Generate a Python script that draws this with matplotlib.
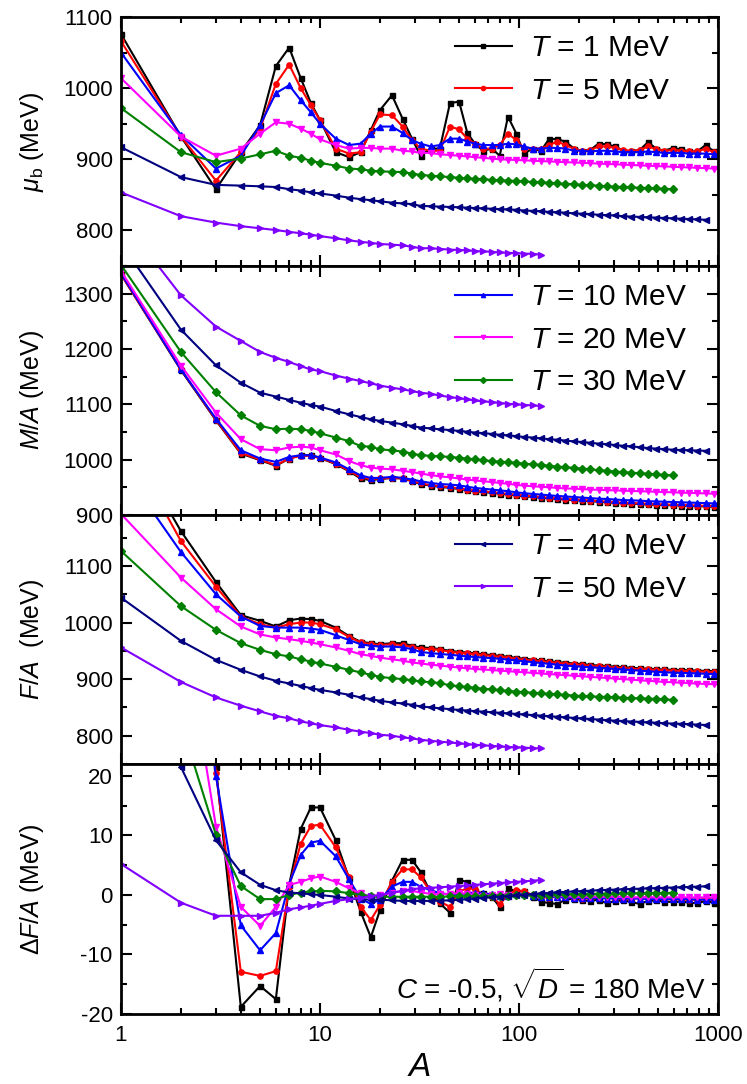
import matplotlib
matplotlib.use('Agg')
import matplotlib.pyplot as plt
from matplotlib.ticker import MultipleLocator, LogLocator, NullFormatter, FixedLocator, FuncFormatter

plt.rcParams['font.family'] = ['Liberation Sans', 'DejaVu Sans']
plt.rcParams['mathtext.fontset'] = 'custom'
plt.rcParams['mathtext.rm'] = 'Liberation Sans'
plt.rcParams['mathtext.it'] = 'Liberation Sans:italic'
plt.rcParams['mathtext.bf'] = 'Liberation Sans:bold'
plt.rcParams['axes.unicode_minus'] = False

# ---------------- data ----------------
A = [1, 2, 3, 4, 5, 6, 7, 8, 9, 10,
     12, 14, 16, 18, 20,
     23, 26, 29, 32, 36, 40,
     45, 50, 55, 60, 66, 73, 80, 88, 97, 106,
     117, 129, 142, 156, 171, 189, 207, 228, 251, 276,
     304, 334, 367, 404, 445, 489, 538, 592, 651, 716,
     788, 866, 953, 1048]

temperatures = [1, 5, 10, 20, 30, 40, 50]
legend_labels = [r'$T$ = %d MeV' % t for t in temperatures]

# chemical potential mu_b (MeV)
mu_T1 = [1076, 932, 858, 910, 948, 1031, 1057, 1014, 979, 955,
         910, 903, 910, 941, 969,
         990, 957, 929, 905, 915, 915,
         979, 981, 937, 922, 912, 915, 905, 960, 936, 908,
         915, 912, 929, 928, 925, 915, 912, 913, 922, 921,
         918, 912, 911, 913, 924, 915, 912, 916, 914, 911,
         911, 920, 911, 910]
mu_T5 = [1066, 932, 870, 910, 943, 1006, 1033, 1000, 976, 955,
         915, 908, 910, 939, 963,
         962, 946, 927, 915, 912, 912,
         946, 942, 929, 922, 915, 915, 920, 936, 927, 915,
         915, 915, 920, 925, 920, 915, 912, 913, 918, 918,
         916, 913, 912, 913, 918, 914, 912, 913, 912, 911,
         911, 915, 910, 909]
mu_T10 = [1050, 934, 887, 905, 948, 993, 1004, 983, 966, 950,
          929, 920, 922, 936, 946,
          946, 937, 927, 922, 918, 920,
          929, 929, 925, 922, 920, 920, 920, 922, 921, 918,
          915, 915, 916, 916, 915, 912, 912, 911, 912, 912,
          911, 910, 910, 910, 911, 910, 909, 909, 909, 908,
          908, 908, 907, 907]
mu_T20 = [1014, 932, 905, 915, 936, 952, 950, 943, 936, 928,
          920, 915, 916, 916, 915,
          915, 912, 911, 909, 909, 907,
          906, 905, 904, 903, 902, 901, 900, 899.5, 899, 898.5,
          898, 897.5, 897, 896.5, 896, 895.5, 895, 894.5, 894, 893.5,
          893, 892.5, 892, 891.5, 891, 890.5, 890, 889.5, 889, 888.5,
          888, 887.5, 887, 886.5]
mu_T30 = [972, 910, 896, 901, 907, 912, 905, 902, 898, 895,
          891, 887, 886, 884, 883,
          882.5, 882, 880, 878, 877, 876,
          875, 874, 873, 872.5, 872, 871, 870.5, 870, 869.5, 869,
          868, 867.5, 867, 866, 865.5, 865, 864, 863.5, 863, 862,
          861.5, 861, 860.5, 860, 859.5, 859, 858.5, 858]
mu_T40 = [917, 875, 864, 863, 862, 861, 858, 856, 853.5, 852,
          849, 846, 844, 842.5, 841,
          839, 838, 837, 834.5, 834, 833.5,
          833, 832.5, 832, 831.5, 831, 830.5, 830, 829.5, 829, 828,
          827.5, 827, 826, 825.5, 825, 824, 823.5, 823, 822, 821.5,
          821, 820, 819.5, 819, 818.5, 818, 817.5, 817, 816.5, 816,
          815.5, 815]
mu_T50 = [853.5, 820, 811, 806, 803, 800.5, 798, 796, 794, 792,
          789, 786, 784, 782.5, 781,
          780, 779, 777, 775, 775, 774,
          773, 772.5, 772, 771, 770.5, 770, 769, 768.5, 768, 767.5,
          767, 766]

# M/A (MeV)
ma_T1 = [1335, 1162, 1071, 1011, 999, 989, 1002, 1008, 1008, 1003,
         992, 979, 966, 963, 965,
         967, 966, 961, 956, 953, 951,
         949, 947, 945, 943, 941.5, 940, 938.5, 937, 935.5, 934,
         932.5, 931.5, 930, 929, 928, 927, 926, 925, 924, 923,
         922, 921, 920.5, 920, 919, 918.5, 918, 917.5, 917, 916.5,
         916, 915.5, 915, 914.5]
ma_T5 = [1335, 1163, 1072, 1012, 1000, 990, 1002, 1007, 1007, 1003,
         993, 980, 968, 965, 966,
         967, 966, 962, 957, 954, 952,
         950, 948, 946, 944, 942.5, 941, 939.5, 938, 936.5, 935,
         933.5, 932.5, 931, 930, 929, 928, 927, 926, 925, 924,
         923, 922, 921.5, 921, 920, 919.5, 919, 918.5, 918, 917.5,
         917, 916.5, 916, 915.5]
ma_T10 = [1337, 1163, 1074, 1017, 1002, 996, 1005, 1008, 1008, 1004,
          995, 982.5, 971.5, 967, 967,
          969, 967, 964, 961, 958, 956,
          955, 953.5, 951, 949, 947.5, 946, 944.5, 943, 941, 939.5,
          938, 937, 935.5, 934.5, 933.5, 932.5, 931.5, 930.5, 929.5, 929,
          928, 927, 926.5, 926, 925, 924.5, 924, 923.5, 923, 922.5,
          922, 921.5, 921, 920.5]
ma_T20 = [1341, 1170, 1085, 1037, 1019, 1017, 1022, 1023.5, 1022, 1017,
          1009.5, 997.5, 990, 985.5, 984,
          982.5, 980, 977.5, 975, 972, 970,
          968, 966, 964, 962.5, 961, 959.5, 958, 956.5, 954.5, 953,
          952, 951, 950, 949, 948, 947.5, 947, 946, 945.5, 945,
          944.5, 944, 943.5, 943, 942.5, 942, 941.5, 941, 940.5, 940,
          939.5, 939, 938.5, 938]
ma_T30 = [1352, 1194.6, 1122, 1080, 1061, 1055, 1056, 1055, 1052, 1047.6,
          1040, 1033.6, 1024.6, 1023.5, 1018.6,
          1017, 1014.5, 1011, 1008, 1007, 1006,
          1005, 1003.5, 1002, 1000.5, 999, 997.5, 996.5, 995.5, 994.5, 993,
          991.5, 990.5, 989, 987.5, 986.5, 985, 984, 982.5, 981, 980,
          978.5, 977.5, 976.5, 975.5, 974.5, 973.5, 972.5, 971.5]
ma_T40 = [1391, 1235, 1170.5, 1139, 1121, 1114, 1108, 1103, 1098.7, 1096,
          1088, 1082, 1077, 1073, 1070,
          1067, 1064, 1061, 1058, 1056.5, 1055,
          1053.5, 1052, 1050.5, 1049, 1048, 1046.5, 1045, 1044, 1042.5, 1041,
          1040, 1038.5, 1037, 1036, 1034.5, 1033, 1032, 1030.5, 1029, 1028,
          1026.5, 1025, 1024, 1022.5, 1021, 1020, 1019, 1018, 1017.5, 1017,
          1016.5, 1016]
ma_T50 = [1437, 1297, 1240.5, 1214.5, 1194.6, 1184, 1176.5, 1169, 1163, 1160,
          1152, 1146.5, 1142, 1138, 1134,
          1130, 1127, 1124, 1121, 1119, 1116,
          1113, 1111, 1109, 1107, 1105.5, 1104, 1102.5, 1101, 1100, 1099,
          1098, 1097]

# F/A (MeV)
fa_T1 = [1345, 1161.6, 1071.6, 1013, 1003, 993, 1004, 1007, 1006, 1003,
         991, 976, 966, 963.5, 961.7,
         963.5, 963.5, 958.8, 956, 955, 953,
         950, 948, 947, 945.5, 944, 942.5, 941, 939.5, 937.5, 936,
         934.5, 933, 931.5, 930, 929, 927.5, 926.5, 925, 924, 923,
         922, 921, 920, 919, 918.5, 917.5, 917, 916.5, 916, 915.5,
         915, 914.5, 914, 913.5]
fa_T5 = [1336, 1144, 1063.5, 1010.6, 997, 991, 997, 1000, 1000, 997,
         988, 974.6, 964.7, 961.7, 960,
         961.7, 960, 957, 954, 953, 951.5,
         948.5, 946.5, 945.5, 944, 942.5, 941, 939.5, 938, 936, 934.5,
         933, 931.5, 930, 928.5, 927.5, 926, 925, 923.5, 922.5, 921.5,
         920.5, 919.5, 918.5, 917.5, 917, 916, 915.5, 915, 914.5, 914,
         913.5, 913, 912.5, 912]
fa_T10 = [1276, 1124.6, 1050, 1010.6, 994, 991, 991, 991, 989.4, 987,
          977.6, 969, 961.7, 958.8, 957.6,
          957.6, 956, 953, 948, 946, 944.5,
          943, 941.5, 940, 939, 938, 937, 936, 934.5, 933, 931.5,
          930, 928.5, 927, 925.5, 924, 923, 922, 921, 920, 919,
          918, 917, 916, 915, 914, 913, 912, 911.5, 911, 910.5,
          910, 909.5, 909, 908.5]
fa_T20 = [1192, 1079.4, 1023.5, 993, 979, 973.5, 970.6, 967.6, 964.7, 961.7,
          955.9, 950, 944, 941, 938,
          935, 932.6, 929.4, 927.6, 925.5, 924,
          922, 920.5, 919, 918, 917, 916, 915, 914, 913, 912,
          911, 910, 909, 908, 907, 906, 905, 904, 903, 902,
          901, 900, 899, 898, 897, 896, 895, 894.5, 893.5, 893,
          892, 891.5, 891, 890.5]
fa_T30 = [1126.4, 1029, 987, 963.5, 951.7, 944, 940, 935, 931, 927.6,
          921.7, 916.4, 911.8, 907.6, 904,
          901.7, 900, 898, 895.9, 894.5, 893,
          889, 887.5, 886, 884.5, 883, 882, 880.5, 879, 878, 877,
          876, 875, 874, 873, 872, 871, 870, 869.5, 869, 868.5,
          868, 867, 866.5, 866, 865.5, 865, 864, 863.5]
fa_T40 = [1044, 967.6, 934, 916.4, 904.7, 897, 892.3, 888, 884, 881,
          876.5, 872.3, 867.6, 864.7, 861.7,
          858.8, 857, 854.6, 851.8, 850, 848.5,
          847, 845.5, 844.5, 843.5, 842.5, 841.5, 840.5, 839.5, 838.5, 837.5,
          836.5, 835.5, 834.5, 833.5, 832.5, 831.5, 830.5, 829.5, 828.5, 827.5,
          826.5, 826, 825, 824.5, 823.5, 823, 822, 821.5, 821, 820.5,
          819.5, 819]
fa_T50 = [956, 895, 867.6, 853, 843, 835, 830.6, 825.3, 821.8, 818.8,
          814.7, 810.5, 807, 804.7, 801.7,
          800, 797, 795.3, 792.8, 791, 789.5,
          788, 786.5, 785, 784, 783, 782, 781, 780, 779.5, 779,
          778, 777.5]

# Delta F/A (MeV)
df_T1 = [120, 80, 21.5, -18.8, -15.3, -17.5, 1.7, 11.1, 14.7, 14.7,
         9.2, 2.8, -2.8, -7.1, -2.6,
         2.4, 5.9, 5.9, 3.9, 0.3, -1.4,
         -3.0, 2.5, 2.2, 0.6, 0.3, -0.3, -2.0, 1.1, 0.6, 0.6,
         -0.3, -1.1, -1.4, -1.5, -0.8, -0.6, -0.9, -1.0, -0.8, -1.4,
         -1.0, -0.9, -1.2, -1.5, -1.0, -0.9, -1.1, -1.2, -1.1, -1.3,
         -1.4, -1.0, -1.3, -1.3]
df_T5 = [110, 75, 20.5, -12.9, -13.6, -12.8, 1.4, 8.6, 11.6, 11.8,
         8.0, 3.0, -2.0, -4.2, -1.7,
         2.2, 4.3, 4.3, 3.0, 0.5, -1.1,
         -2.0, 0.6, 1.1, 1.0, 0.0, -0.3, -1.5, 0.0, 0.8, 0.6,
         0.0, -0.3, -0.5, -0.2, -0.3, -0.5, -0.6, -0.5, -0.3, -0.4,
         -0.6, -0.7, -0.6, -0.5, -0.4, -0.6, -0.7, -0.7, -0.7, -0.8,
         -0.8, -0.7, -0.8, -0.8]
df_T10 = [100, 65, 20, -5.1, -9.3, -6.4, 1.9, 6.7, 8.8, 9.1,
          6.5, 2.6, -0.6, -1.5, -0.8,
          1.4, 2.2, 2.2, 1.4, 0.8, 0.3,
          0.1, 0.0, 0.3, 0.4, 0.3, 0.1, -0.1, -0.1, 0.1, 0.1,
          -0.2, -0.3, -0.3, -0.4, -0.4, -0.5, -0.5, -0.5, -0.5, -0.6,
          -0.6, -0.6, -0.6, -0.6, -0.7, -0.7, -0.7, -0.7, -0.7, -0.7,
          -0.8, -0.8, -0.8, -0.8]
df_T20 = [85, 48, 11.5, -2.0, -5.2, -2.0, 1.7, 2.2, 2.8, 3.1,
          2.2, 1.1, 0.3, -0.3, 0.0,
          0.3, 0.7, 0.7, 0.4, 0.2, 0.1,
          0.2, 0.3, 0.2, 0.0, -0.1, 0.0, 0.1, 0.0, -0.1, -0.1,
          -0.1, -0.2, -0.2, -0.2, -0.2, -0.3, -0.3, -0.3, -0.3, -0.3,
          -0.3, -0.3, -0.4, -0.4, -0.4, -0.4, -0.4, -0.4, -0.4, -0.4,
          -0.4, -0.4, -0.4, -0.4]
df_T30 = [45, 29, 10.1, 1.5, -0.7, -0.7, 0.0, 0.4, 0.6, 0.7,
          0.6, 0.3, 0.0, -0.2, -0.3,
          -0.3, -0.3, -0.3, -0.3, -0.3, -0.3,
          -0.25, -0.25, -0.2, -0.2, -0.15, -0.15, -0.1, -0.1, -0.05, 0.0,
          0.0, 0.05, 0.05, 0.1, 0.1, 0.15, 0.15, 0.2, 0.2, 0.2,
          0.25, 0.25, 0.25, 0.3, 0.3, 0.3, 0.3, 0.35]
df_T40 = [40, 21.5, 9.2, 3.8, 1.7, 0.8, 0.4, 0.3, 0.1, 0.0,
          -0.3, -0.6, -0.7, -0.8, -0.8,
          -0.9, -1.0, -1.0, -1.0, -1.0, -0.95,
          -0.9, -0.8, -0.7, -0.6, -0.5, -0.4, -0.3, -0.2, -0.05, 0.05,
          0.15, 0.25, 0.35, 0.45, 0.5, 0.6, 0.65, 0.7, 0.8, 0.85,
          0.9, 0.95, 1.0, 1.05, 1.1, 1.15, 1.2, 1.25, 1.3, 1.35,
          1.4, 1.45]
df_T50 = [5.2, -1.3, -3.5, -3.5, -3.5, -3.0, -2.4, -2.1, -1.8, -1.5,
          -1.0, -0.7, -0.5, -0.2, 0.0,
          0.4, 0.7, 1.0, 1.1, 1.2, 1.3,
          1.4, 1.5, 1.6, 1.7, 1.8, 1.9, 2.0, 2.1, 2.2, 2.3,
          2.4, 2.5]

panels = [
    [mu_T1, mu_T5, mu_T10, mu_T20, mu_T30, mu_T40, mu_T50],
    [ma_T1, ma_T5, ma_T10, ma_T20, ma_T30, ma_T40, ma_T50],
    [fa_T1, fa_T5, fa_T10, fa_T20, fa_T30, fa_T40, fa_T50],
    [df_T1, df_T5, df_T10, df_T20, df_T30, df_T40, df_T50],
]

# ---------------- styling ----------------
colors = ['#000000', '#ff0000', '#0000ff', '#ff00ff', '#008000', '#000080', '#8000ff']
markers = ['s', 'o', '^', 'v', 'D', '<', '>']
msizes = [3.6, 3.8, 5.0, 5.0, 3.6, 5.0, 5.0]

ylabels = [r'$\mu_{\mathrm{b}}$ (MeV)', r'$M/A$ (MeV)', r'$F/A$  (MeV)', r'$\mathit{\Delta F/A}$ (MeV)']
ylims = [(750, 1100), (900, 1350), (750, 1190), (-20, 22)]
ymajor = [[800, 900, 1000, 1100], [900, 1000, 1100, 1200, 1300],
          [800, 900, 1000, 1100], [-20, -10, 0, 10, 20]]
yminor = [50, 50, 50, 5]
legend_groups = [[0, 1], [2, 3, 4], [5, 6]]

W, H = 747, 1084
fig = plt.figure(figsize=(W / 100, H / 100), dpi=100)
bounds = [17, 266, 515, 764, 1014]
left_px, right_px = 121, 718

axes = []
for i in range(4):
    top, bot = bounds[i], bounds[i + 1]
    ax = fig.add_axes([left_px / W, 1 - bot / H, (right_px - left_px) / W, (bot - top) / H])
    axes.append(ax)
    lines = []
    for k, vals in enumerate(panels[i]):
        ln, = ax.plot(A[:len(vals)], vals, color=colors[k], marker=markers[k],
                      ms=msizes[k], lw=1.5, mec=colors[k], mfc=colors[k])
        lines.append(ln)
    ax.set_xscale('log')
    ax.set_xlim(1, 1000)
    ax.set_ylim(*ylims[i])
    ax.yaxis.set_major_locator(FixedLocator(ymajor[i]))
    ax.yaxis.set_minor_locator(MultipleLocator(yminor[i]))
    ax.xaxis.set_major_locator(LogLocator(base=10, numticks=10))
    ax.xaxis.set_minor_locator(LogLocator(base=10, subs=range(2, 10), numticks=20))
    ax.xaxis.set_major_formatter(FuncFormatter(lambda v, p: '%g' % v))
    ax.xaxis.set_minor_formatter(NullFormatter())
    ax.tick_params(which='both', direction='in', top=True, right=True, width=1.5,
                   labelsize=16)
    ax.tick_params(which='major', length=8)
    ax.tick_params(which='minor', length=4.5)
    ax.tick_params(axis='y', pad=6)
    ax.tick_params(axis='x', pad=8)
    for sp in ax.spines.values():
        sp.set_linewidth(2)
    if i < 3:
        ax.tick_params(labelbottom=False)
    ax.set_ylabel(ylabels[i], fontsize=18)
    ax.yaxis.set_label_coords(-0.125, 0.5)
    if i < 3:
        grp = legend_groups[i]
        leg = ax.legend([lines[k] for k in grp], [legend_labels[k] for k in grp],
                        loc='upper left', bbox_to_anchor=((455 - left_px) / (right_px - left_px), 0.93),
                        frameon=False, fontsize=21.5, handlelength=1.9, handletextpad=0.6,
                        labelspacing=0.48, borderpad=0, borderaxespad=0, numpoints=1)
        for lh in leg.get_lines():
            lh.set_markersize(3)

axes[3].set_xlabel(r'$A$', fontsize=24, labelpad=4)
axes[3].text(0.98, 0.04, r'$C$ = -0.5, $\sqrt{D}$ = 180 MeV', transform=axes[3].transAxes,
             ha='right', va='bottom', fontsize=20)

fig.savefig('out.png', dpi=100)
